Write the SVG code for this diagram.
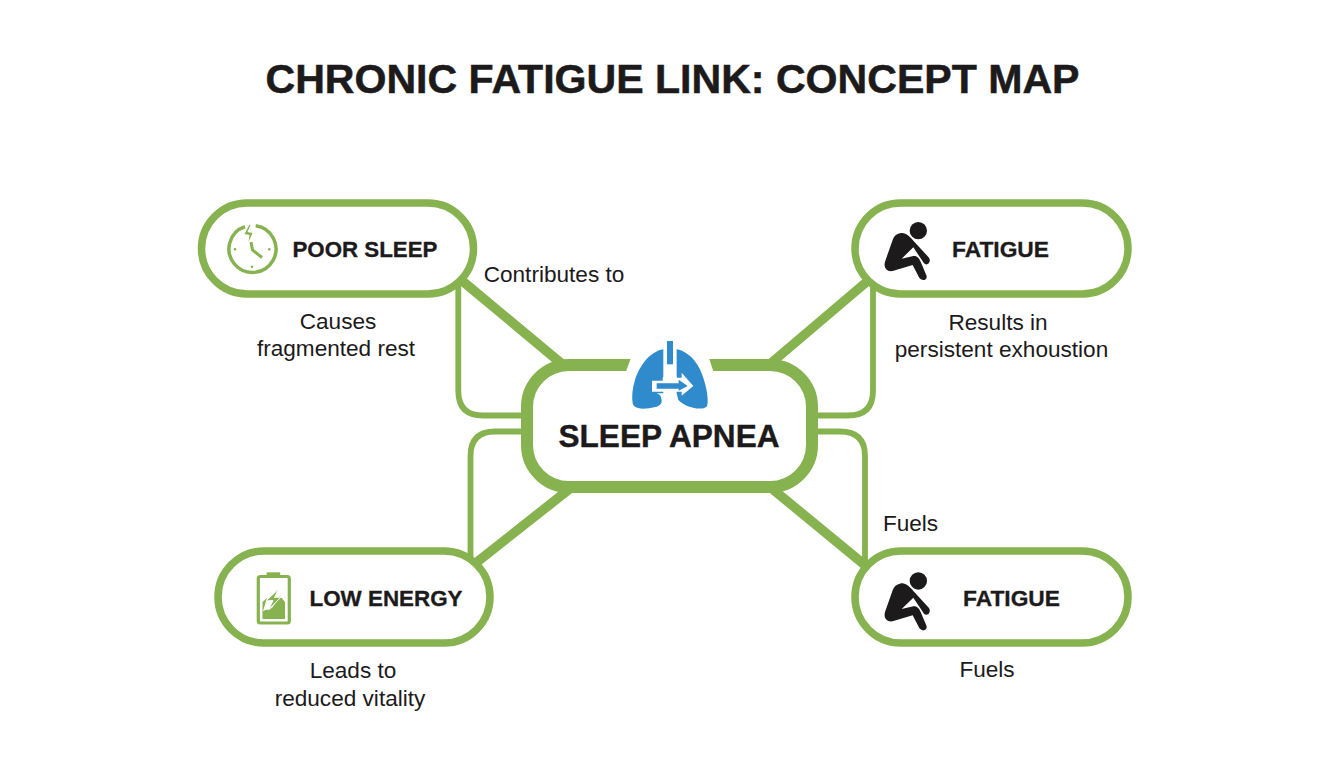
<svg xmlns="http://www.w3.org/2000/svg" width="1344" height="768" viewBox="0 0 1344 768">
<style>
.t{font-family:"Liberation Sans",Arial,sans-serif;fill:#1c1a1b}
.b{font-weight:700}
.l{font-size:22.6px;text-anchor:middle}
.n{font-size:22px;font-weight:700;text-anchor:middle;stroke:#1c1a1b;stroke-width:.3px}
.g{fill:none;stroke:#86b24f}
.pill{fill:#fff;stroke:#86b24f;stroke-width:7.500px}
.k{fill:#1c1a1b}
.gf{fill:#86b24f}
</style>
<defs>
<g id="person" transform="scale(.3333)">
<circle cx="205" cy="122" r="26" class="k"/>
<path class="k" d="M150 130C165 125 180 140 190 152L237 203C245 215 232 230 222 220L190 172L155 206L190 198C200 196 208 205 212 215L230 258C232 272 214 275 207 262L188 225L128 243C110 246 100 232 105 215L128 150C132 138 140 132 150 130Z"/>
</g>
</defs>
<rect width="1344" height="768" fill="#fff"/>
<text class="t b" x="672.500" y="93" font-size="40" text-anchor="middle" textLength="814" lengthAdjust="spacingAndGlyphs" stroke="#1c1a1b" stroke-width=".5">CHRONIC FATIGUE LINK: CONCEPT MAP</text>
<g id="connectors">
<path class="g" stroke-width="9.500" d="M460 279L562 364M870 279L770 364M572 487L472 566M770 487L866 566"/>
<path class="g" stroke-width="5.800" d="M458.300 275V391Q458.300 415.500 483 415.500H530M873 275V391Q873 415.500 848 415.500H810M522 431.500H495Q470.500 431.500 470.500 456V566M810 431.500H840Q865 431.500 865 456V566"/>
</g>
<g id="node-poor-sleep">
<rect class="pill" x="201.500" y="203" width="272" height="91" rx="45.500"/>
<path class="g" stroke-width="3.500" d="M255.700 225.700A23.500 23.500 0 1 1 245 226.700"/>
<path class="g" stroke-width="3" d="M251 242L252.500 250L262 257.500"/>
<path class="gf" d="M249.500 224.500L244.500 234L249.500 235L248.500 242L252.500 233L247.500 232L250.500 225Z"/>
<g class="gf"><circle cx="235" cy="249.300" r="1.300"/><circle cx="269.300" cy="249.300" r="1.300"/><circle cx="252" cy="266.700" r="1.300"/></g>
<text class="t n" x="365" y="257" textLength="145" lengthAdjust="spacingAndGlyphs">POOR SLEEP</text>
</g>
<g id="node-fatigue-top">
<rect class="pill" x="855" y="203" width="273" height="91" rx="45.500"/>
<use href="#person" x="850" y="190"/>
<text class="t n" x="1000.500" y="257" textLength="97" lengthAdjust="spacingAndGlyphs">FATIGUE</text>
</g>
<g id="node-low-energy">
<rect class="pill" x="218" y="551" width="272" height="92" rx="46"/>
<rect x="258.300" y="576.500" width="31" height="46.500" rx="2" fill="none" stroke="#86b24f" stroke-width="3.200"/>
<rect class="gf" x="266.700" y="572.300" width="13.500" height="4.500"/>
<path class="gf" d="M262.500 602L267 598L263 611L272 608L280 596L285 602V619H262.500Z"/>
<path class="gf" stroke="#fff" stroke-width="1" d="M278.500 589L266 601L273 600.500L268.500 610L281 597L274.500 597.500Z"/>
<text class="t n" x="386" y="606" textLength="153" lengthAdjust="spacingAndGlyphs">LOW ENERGY</text>
</g>
<g id="node-fatigue-bottom">
<rect class="pill" x="855" y="551" width="273" height="92" rx="46"/>
<use href="#person" x="850" y="540.300"/>
<text class="t n" x="1011.500" y="606" textLength="97" lengthAdjust="spacingAndGlyphs">FATIGUE</text>
</g>
<g id="node-sleep-apnea">
<rect x="527" y="365" width="285" height="122" rx="42" fill="#fff" stroke="#86b24f" stroke-width="12"/>
<g transform="translate(500 330) scale(.3333)">
<path fill="#fff" d="M395 78L376 130H642L625 78L570 30H450Z"/>
<path fill="#2f8bcb" d="M490 58C450 65 420 105 405 150C397 175 395 200 398 220C402 238 430 240 470 230C485 225 490 215 480 195L470 190H490V58Z"/>
<path fill="#2f8bcb" d="M530 58C570 65 600 105 612 150C625 190 625 225 620 230C605 242 560 235 535 210L530 190V58Z"/>
<rect x="501" y="33" width="18" height="70" fill="#2f8bcb"/>
<path fill="#fff" d="M488 143L510 122L532 143H545V128L580 168L545 197V185H456V152H488Z"/>
<path fill="#2f8bcb" d="M470 160H536V149L563 168L536 182V176H470Z"/>
</g>
<text class="t b" x="669" y="447" font-size="32" text-anchor="middle" textLength="221" lengthAdjust="spacingAndGlyphs" stroke="#1c1a1b" stroke-width=".4">SLEEP APNEA</text>
</g>
<g id="labels">
<text class="t l" x="554" y="282">Contributes to</text>
<text class="t l" x="338" y="329">Causes</text>
<text class="t l" x="336" y="356">fragmented rest</text>
<text class="t l" x="998" y="330">Results in</text>
<text class="t l" x="1001.500" y="357">persistent exhoustion</text>
<text class="t l" x="910.500" y="531">Fuels</text>
<text class="t l" x="353" y="678">Leads to</text>
<text class="t l" x="350" y="706">reduced vitality</text>
<text class="t l" x="987" y="677">Fuels</text>
</g>
</svg>
